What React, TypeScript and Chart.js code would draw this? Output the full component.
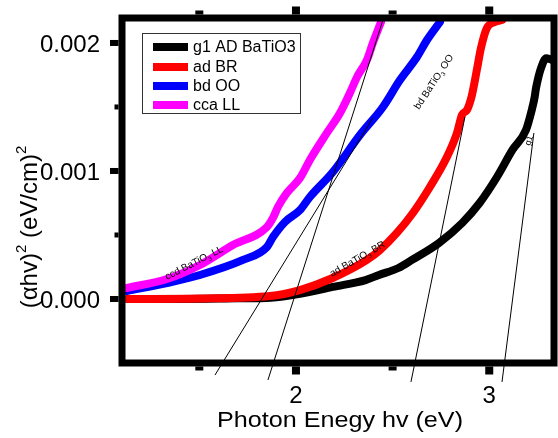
import React, { useEffect, useRef } from "react";
import { Chart, registerables } from "chart.js";

Chart.register(...registerables);

// ---------------- data ----------------
const g1X = [1.13, 1.4, 1.7, 1.87, 2.02, 2.19, 2.36, 2.43, 2.53, 2.6, 2.74, 2.86, 2.95, 3.04, 3.12, 3.19, 3.22, 3.235, 3.24, 3.245, 3.265, 3.295, 3.32];
const g1Y = [0, 0, 0.000005, 0.00001, 0.00004, 0.000094, 0.000148, 0.000188, 0.000242, 0.000305, 0.000438, 0.000594, 0.00075, 0.000953, 0.001164, 0.00132, 0.001477, 0.001578, 0.00163, 0.00167, 0.00179, 0.00188, 0.00187];

const adX = [1.13, 1.5, 1.865, 2.02, 2.19, 2.367, 2.435, 2.522, 2.605, 2.693, 2.781, 2.833, 2.859, 2.885, 2.91, 2.936, 2.957, 2.988, 3.03, 3.066];
const adY = [0, 0.000004, 0.000023, 0.00007, 0.000164, 0.000305, 0.000383, 0.000516, 0.000672, 0.000875, 0.001109, 0.001297, 0.001438, 0.001477, 0.00159, 0.00179, 0.00196, 0.002117, 0.002164, 0.00218];

const bdX = [1.126, 1.333, 1.503, 1.726, 1.85, 1.881, 1.943, 2.021, 2.072, 2.191, 2.331, 2.45, 2.538, 2.626, 2.678, 2.745];
const bdY = [0.0000625, 0.000125, 0.0001875, 0.000305, 0.000406, 0.000484, 0.000602, 0.000695, 0.000797, 0.000992, 0.001281, 0.0015, 0.00171, 0.00189, 0.002023, 0.002164];

const ccaX = [1.126, 1.333, 1.503, 1.674, 1.85, 1.881, 1.907, 1.953, 2.021, 2.072, 2.16, 2.228, 2.279, 2.316, 2.367, 2.398, 2.44];
const ccaY = [0.000086, 0.000156, 0.000266, 0.000422, 0.0005625, 0.000633, 0.000719, 0.000828, 0.000945, 0.001086, 0.001297, 0.001453, 0.001609, 0.001734, 0.001867, 0.002, 0.002164];

// tangent (extrapolation) lines: [x1, x2], [y1, y2]
const tanBdX = [2.398, 1.581];
const tanBdY = [0.001414, -0.000594];
const tanCcaX = [2.45, 1.855];
const tanCcaY = [0.00218, -0.000633];
const tanAdX = [2.874, 2.595];
const tanAdY = [0.001422, -0.000648];
const tanG1X = [3.231, 3.066];
const tanG1Y = [0.001297, -0.000648];

const seriesNames = ["g1 AD BaTiO3", "ad BR", "bd OO", "cca LL"];
const seriesColors = ["#000000", "#ff0000", "#0000ff", "#ff00ff"];

const xTicks = [2, 3];
const xMinorTicks = [1.5, 2.5];
const yTicks = [0, 0.001, 0.002];
const yMinorTicks = [0.0005, 0.0015];
const xTitle = "Photon Enegy hv (eV)";

const FONT = "'Liberation Sans', Arial, Helvetica, sans-serif";

const pts = (xs: number[], ys: number[]) => xs.map((x, i) => ({ x, y: ys[i] }));

function drawSubText(ctx: CanvasRenderingContext2D, x: number, y: number, angle: number, pre: string, sub: string, post: string, size: number) {
  ctx.save();
  ctx.translate(x, y);
  ctx.rotate(angle);
  ctx.textBaseline = "alphabetic";
  ctx.textAlign = "left";
  ctx.fillStyle = "#000";
  ctx.font = `${size}px ${FONT}`;
  ctx.fillText(pre, 0, 0);
  let w = ctx.measureText(pre).width;
  ctx.font = `${size * 0.6}px ${FONT}`;
  ctx.fillText(sub, w, size * 0.25);
  w += ctx.measureText(sub).width;
  ctx.font = `${size}px ${FONT}`;
  ctx.fillText(post, w, 0);
  ctx.restore();
}

const framePlugin = {
  id: "framePlugin",
  afterDatasetsDraw(chart: any) {
    const { ctx, chartArea: a, scales } = chart;
    const xs = scales.x;
    const ys = scales.y;
    ctx.save();

    // annotations
    drawSubText(ctx, 167, 280, -0.47, "ccd BaTiO", "3", " LL", 10);
    drawSubText(ctx, 332, 277, -0.52, "ad BaTiO", "3", " BR", 10);
    drawSubText(ctx, 419, 110, -0.99, "bd BaTiO", "3", " OO", 10);
    drawSubText(ctx, 530, 146, -1.25, "g1", "", "", 9);

    // frame
    ctx.strokeStyle = "#000";
    ctx.lineWidth = 7;
    ctx.strokeRect(a.left, a.top, a.right - a.left, a.bottom - a.top);

    ctx.fillStyle = "#000";
    const half = 3.5;
    // x ticks
    for (const v of xTicks) {
      const px = xs.getPixelForValue(v);
      ctx.fillRect(px - 4, a.bottom + half, 8, 8);
      ctx.fillRect(px - 4, a.top - half - 8, 8, 8);
    }
    for (const v of xMinorTicks) {
      const px = xs.getPixelForValue(v);
      ctx.fillRect(px - 4, a.bottom + half, 8, 4);
      ctx.fillRect(px - 4, a.top - half - 4, 8, 4);
    }
    // y ticks
    for (const v of yTicks) {
      const py = ys.getPixelForValue(v);
      ctx.fillRect(a.left - half - 8.5, py - 3, 8.5, 6);
    }
    for (const v of yMinorTicks) {
      const py = ys.getPixelForValue(v);
      ctx.fillRect(a.left - half - 4, py - 2.5, 4, 5);
    }

    // tick labels
    ctx.font = `24px ${FONT}`;
    ctx.textBaseline = "alphabetic";
    ctx.textAlign = "right";
    for (const v of yTicks) {
      const py = ys.getPixelForValue(v);
      ctx.fillText(v.toFixed(3), 100, py + 9);
    }
    ctx.textAlign = "center";
    for (const v of xTicks) {
      const px = xs.getPixelForValue(v);
      ctx.fillText(String(v), px, 403);
    }

    // x title (stretched to match)
    ctx.save();
    ctx.font = `22px ${FONT}`;
    const tw = ctx.measureText(xTitle).width;
    const sx = 246 / tw;
    ctx.translate(340, 427);
    ctx.scale(sx, 1);
    ctx.textAlign = "center";
    ctx.fillText(xTitle, 0, 0);
    ctx.restore();

    // y title
    ctx.save();
    ctx.translate(37, 227);
    ctx.rotate(-Math.PI / 2);
    const parts: [string, number, number][] = [
      ["(\u03b1hv)", 24, 0],
      ["2", 15, -11],
      [" (eV/cm)", 24, 0],
      ["2", 15, -11],
    ];
    let total = 0;
    for (const [t, s] of parts) {
      ctx.font = `${s}px ${FONT}`;
      total += ctx.measureText(t).width;
    }
    let cx = -total / 2;
    ctx.textAlign = "left";
    for (const [t, s, dy] of parts) {
      ctx.font = `${s}px ${FONT}`;
      ctx.fillText(t, cx, dy);
      cx += ctx.measureText(t).width;
    }
    ctx.restore();

    // legend
    ctx.lineWidth = 1;
    ctx.strokeStyle = "#333";
    ctx.strokeRect(142.5, 33.5, 158, 80);
    const rowY = [47, 67, 86, 105];
    ctx.font = `16px ${FONT}`;
    ctx.textAlign = "left";
    ctx.textBaseline = "middle";
    seriesNames.forEach((name, i) => {
      ctx.fillStyle = seriesColors[i];
      ctx.fillRect(153, rowY[i] - 4, 35, 8);
      ctx.fillStyle = "#000";
      ctx.fillText(name, 193, rowY[i] + 1);
    });

    ctx.restore();
  },
};

export default function App() {
  const ref = useRef<HTMLCanvasElement | null>(null);

  useEffect(() => {
    document.body.style.margin = "0";
    if (!ref.current) return;
    const curve = (label: string, data: any, color: string) => ({
      label,
      data,
      borderColor: color,
      backgroundColor: color,
      borderWidth: 8,
      pointRadius: 0,
      fill: false,
      tension: 0,
      cubicInterpolationMode: "monotone" as const,
      borderJoinStyle: "round" as const,
      borderCapStyle: "round" as const,
    });
    const tangent = (data: any) => ({
      label: "",
      data,
      borderColor: "#000",
      borderWidth: 1,
      pointRadius: 0,
      fill: false,
      tension: 0,
      clip: { left: 0, top: 5, right: 0, bottom: 25 },
    });
    const chart = new Chart(ref.current, {
      type: "line",
      data: {
        datasets: [
          tangent(pts(tanBdX, tanBdY)),
          tangent(pts(tanCcaX, tanCcaY)),
          tangent(pts(tanAdX, tanAdY)),
          tangent(pts(tanG1X, tanG1Y)),
          curve(seriesNames[3], pts(ccaX, ccaY), seriesColors[3]),
          curve(seriesNames[1], pts(adX, adY), seriesColors[1]),
          curve(seriesNames[2], pts(bdX, bdY), seriesColors[2]),
          curve(seriesNames[0], pts(g1X, g1Y), seriesColors[0]),
        ],
      },
      options: {
        animation: false,
        responsive: false,
        layout: { padding: { left: 122, top: 18, right: 4, bottom: 75 } },
        plugins: { legend: { display: false }, tooltip: { enabled: false } },
        scales: {
          x: { type: "linear", min: 1.1, max: 3.335, display: false },
          y: { type: "linear", min: -0.0005, max: 0.002195, display: false },
        },
      },
      plugins: [framePlugin],
    });
    return () => chart.destroy();
  }, []);

  return <canvas ref={ref} width={558} height={438} style={{ display: "block" }} />;
}
